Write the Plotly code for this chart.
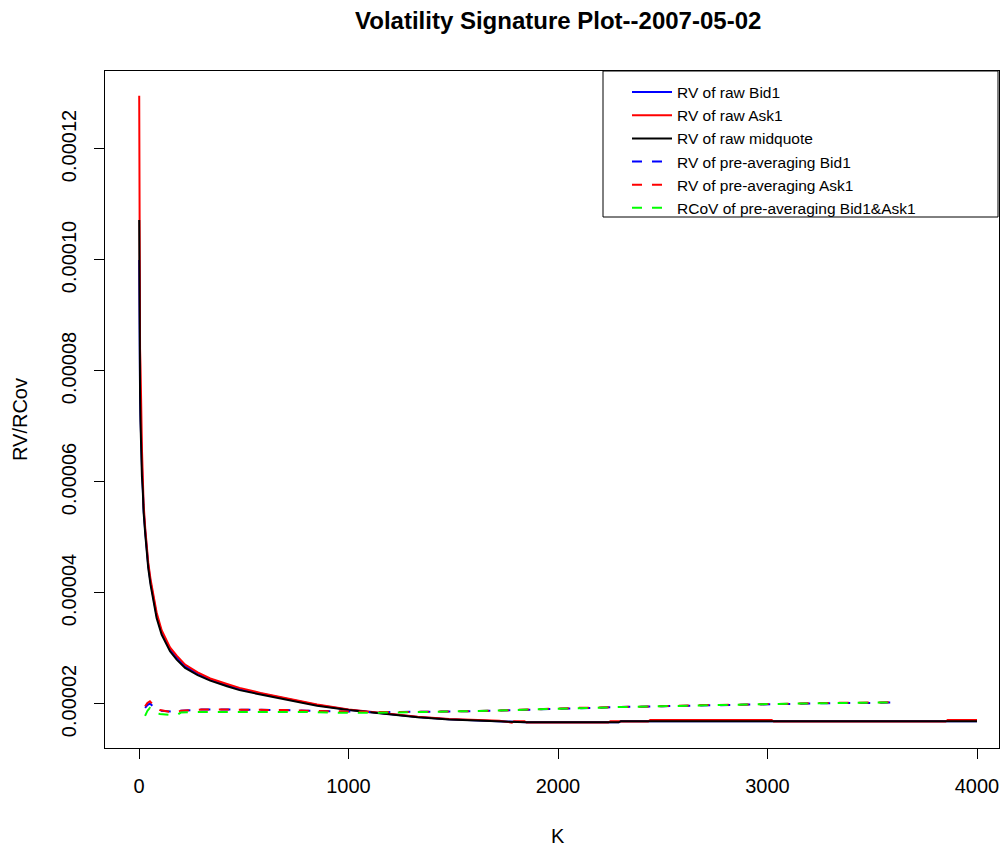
import plotly.graph_objects as go

# ---------------- data ----------------
K_raw = [1, 2, 3, 5, 7, 8, 10, 14, 18, 22, 30, 44, 55, 68, 84, 108, 148, 180, 220,
         280, 340, 420, 480, 580, 680, 760, 850, 1000, 1165, 1330, 1480, 1720, 1780,
         1790, 1840, 1850, 2240, 2250, 2290, 2300, 2430, 2440, 3020, 3030, 3850, 3860, 4000]

rv_bid_raw = [1.0e-4, 7.9e-5, 7.8e-5, 7.6e-5, 7.2e-5, 7.0e-5, 6.7e-5, 6.3e-5, 5.9e-5, 5.5e-5,
              5.1e-5, 4.5e-5, 4.2e-5, 3.9e-5, 3.6e-5, 3.29e-5, 2.99e-5, 2.84e-5, 2.68e-5,
              2.55e-5, 2.44e-5, 2.34e-5, 2.27e-5, 2.19e-5, 2.11e-5, 2.05e-5, 1.98e-5, 1.895e-5, 1.825e-5,
              1.765e-5, 1.725e-5, 1.69e-5, 1.67e-5,
              1.67e-5, 1.67e-5, 1.67e-5, 1.67e-5, 1.67e-5, 1.67e-5, 1.69e-5, 1.69e-5, 1.69e-5, 1.69e-5,
              1.69e-5, 1.69e-5, 1.69e-5, 1.69e-5]

rv_ask_raw = [1.296e-4, 9.45e-5, 8.9e-5, 8.4e-5, 8.1e-5, 8.0e-5, 7.5e-5, 6.6e-5, 6.0e-5, 5.6e-5,
              5.15e-5, 4.55e-5, 4.25e-5, 3.95e-5, 3.65e-5, 3.33e-5, 3.02e-5, 2.87e-5, 2.71e-5,
              2.57e-5, 2.46e-5, 2.36e-5, 2.29e-5, 2.2e-5, 2.12e-5, 2.06e-5, 1.99e-5, 1.9e-5, 1.83e-5,
              1.77e-5, 1.73e-5, 1.7e-5, 1.665e-5,
              1.69e-5, 1.69e-5, 1.665e-5, 1.665e-5, 1.69e-5, 1.69e-5, 1.685e-5, 1.685e-5, 1.71e-5, 1.71e-5,
              1.685e-5, 1.685e-5, 1.71e-5, 1.71e-5]

rv_mid_raw = [1.072e-4, 8.0e-5, 7.85e-5, 7.6e-5, 7.1e-5, 6.85e-5, 6.55e-5, 6.1e-5, 5.85e-5, 5.45e-5,
              5.05e-5, 4.45e-5, 4.15e-5, 3.85e-5, 3.55e-5, 3.25e-5, 2.95e-5, 2.8e-5, 2.65e-5,
              2.52e-5, 2.42e-5, 2.32e-5, 2.25e-5, 2.17e-5, 2.1e-5, 2.04e-5, 1.97e-5, 1.89e-5, 1.82e-5,
              1.76e-5, 1.72e-5, 1.69e-5, 1.67e-5,
              1.67e-5, 1.67e-5, 1.67e-5, 1.67e-5, 1.67e-5, 1.67e-5, 1.69e-5, 1.69e-5, 1.69e-5, 1.69e-5,
              1.69e-5, 1.69e-5, 1.69e-5, 1.69e-5]

K_pa = [29, 40, 52, 65, 80, 100, 130, 160, 185, 200, 250, 300, 400, 500, 600, 700, 800, 900,
        1000, 1100, 1200, 1350, 1500, 1700, 1900, 2100, 2300, 2500, 2700, 2900, 3100, 3300,
        3500, 3580, 3600]

rv_bid_pa = [1.93e-5, 1.98e-5, 2.01e-5, 1.965e-5, 1.91e-5, 1.88e-5, 1.87e-5, 1.85e-5, 1.855e-5,
             1.88e-5, 1.89e-5, 1.9e-5, 1.9e-5, 1.9e-5, 1.9e-5, 1.89e-5, 1.88e-5, 1.87e-5,
             1.865e-5, 1.855e-5, 1.855e-5, 1.855e-5, 1.865e-5, 1.88e-5, 1.905e-5, 1.925e-5, 1.945e-5,
             1.96e-5, 1.975e-5, 1.99e-5, 2.005e-5, 2.015e-5, 2.02e-5, 2.025e-5, 2.03e-5]

rv_ask_pa = [1.96e-5, 2.02e-5, 2.05e-5, 2.0e-5, 1.93e-5, 1.89e-5, 1.87e-5, 1.85e-5, 1.86e-5,
             1.88e-5, 1.89e-5, 1.9e-5, 1.9e-5, 1.9e-5, 1.9e-5, 1.89e-5, 1.88e-5, 1.87e-5,
             1.865e-5, 1.855e-5, 1.855e-5, 1.855e-5, 1.865e-5, 1.88e-5, 1.91e-5, 1.93e-5, 1.945e-5,
             1.965e-5, 1.98e-5, 1.99e-5, 2.01e-5, 2.02e-5, 2.025e-5, 2.03e-5, 2.045e-5]

rcov_pa = [1.785e-5, 1.875e-5, 1.93e-5, 1.89e-5, 1.84e-5, 1.82e-5, 1.81e-5, 1.8e-5, 1.81e-5,
           1.845e-5, 1.855e-5, 1.855e-5, 1.865e-5, 1.865e-5, 1.855e-5, 1.855e-5, 1.855e-5, 1.845e-5,
           1.84e-5, 1.84e-5, 1.845e-5, 1.855e-5, 1.865e-5, 1.88e-5, 1.905e-5, 1.93e-5, 1.945e-5,
           1.96e-5, 1.98e-5, 1.99e-5, 2.005e-5, 2.015e-5, 2.02e-5, 2.025e-5, 2.03e-5]

x_ticks = [0, 1000, 2000, 3000, 4000]
y_ticks = [2e-5, 4e-5, 6e-5, 8e-5, 1e-4, 1.2e-4]
y_tick_labels = ["0.00002", "0.00004", "0.00006", "0.00008", "0.00010", "0.00012"]

names = ["RV of raw Bid1", "RV of raw Ask1", "RV of raw midquote",
         "RV of pre-averaging Bid1", "RV of pre-averaging Ask1",
         "RCoV of pre-averaging Bid1&Ask1"]

# ---------------- figure ----------------
FONT = "Liberation Sans, Arial, sans-serif"
W, H = 1000, 848
L, R, T, B = 105, 1, 71, 100
PW, PH = W - L - R, H - T - B

def px_x(p):
    return (p - L) / PW

def px_y(p):
    return (H - B - p) / PH

fig = go.Figure()
series = [
    (K_raw, rv_bid_raw, "#0000ff", "solid"),
    (K_raw, rv_ask_raw, "#ff0000", "solid"),
    (K_raw, rv_mid_raw, "#000000", "solid"),
    (K_pa, rv_bid_pa, "#0000ff", "10px,10px"),
    (K_pa, rv_ask_pa, "#ff0000", "10px,10px"),
    (K_pa, rcov_pa, "#00ff00", "10px,10px"),
]
for (xs, ys, col, dash), nm in zip(series, names):
    fig.add_trace(go.Scatter(x=xs, y=ys, mode="lines", name=nm,
                             line=dict(color=col, width=2, dash=dash)))

axis_common = dict(showgrid=False, zeroline=False, showline=True, mirror=True,
                   linecolor="#000000", linewidth=1, ticks="outside", ticklen=10,
                   tickcolor="#000000", tickwidth=1,
                   tickfont=dict(family=FONT, size=20, color="#000000"))

fig.update_xaxes(range=[-162.3, 4105], tickvals=x_ticks, ticktext=[str(v) for v in x_ticks],
                 ticklabelstandoff=10, **axis_common)
fig.update_yaxes(range=[1.207e-5, 1.3405e-4], tickvals=y_ticks, ticktext=y_tick_labels,
                 tickangle=-90, ticklabelstandoff=10, **axis_common)

fig.update_layout(
    width=W, height=H,
    margin=dict(l=L, r=R, t=T, b=B),
    paper_bgcolor="white", plot_bgcolor="white",
    showlegend=True,
    legend=dict(x=px_x(627), y=px_y(75.5), xanchor="left", yanchor="top",
                bgcolor="rgba(0,0,0,0)", borderwidth=0,
                font=dict(family=FONT, size=15.5, color="#000000"),
                tracegroupgap=0, itemwidth=40),
    shapes=[dict(type="rect", xref="paper", yref="paper",
                 x0=px_x(603), x1=px_x(998), y0=px_y(217), y1=px_y(71),
                 line=dict(color="#000000", width=1), fillcolor="rgba(0,0,0,0)")],
    annotations=[
        dict(text="<b>Volatility Signature Plot--2007-05-02</b>", xref="paper", yref="paper",
             x=px_x(557.5), y=px_y(21), showarrow=False, xanchor="center", yanchor="middle",
             font=dict(family=FONT, size=24, color="#000000")),
        dict(text="K", xref="paper", yref="paper", x=px_x(557.5), y=px_y(836),
             showarrow=False, xanchor="center", yanchor="middle",
             font=dict(family=FONT, size=20, color="#000000")),
        dict(text="RV/RCov", xref="paper", yref="paper", x=px_x(20), y=px_y(420),
             showarrow=False, xanchor="center", yanchor="middle", textangle=-90,
             font=dict(family=FONT, size=20, color="#000000")),
    ],
)

fig.write_html("out.html", config={"displayModeBar": False},
               post_script="document.body.style.margin='0';document.body.style.overflow='hidden';")
